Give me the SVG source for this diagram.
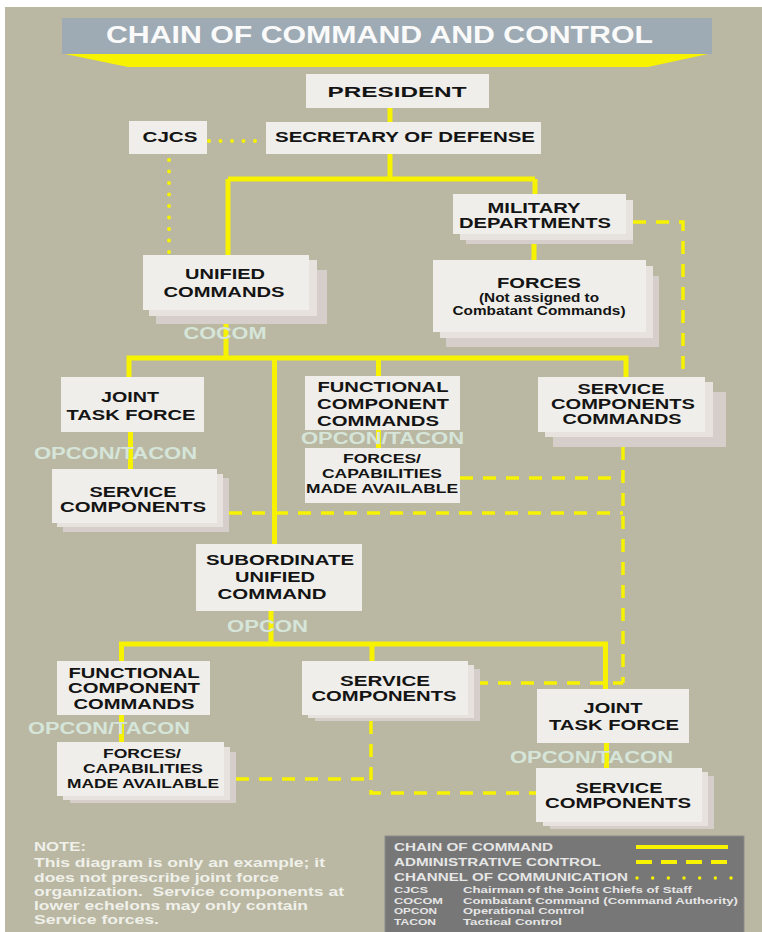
<svg xmlns="http://www.w3.org/2000/svg" width="762" height="932" viewBox="0 0 762 932">
<style>
text{font-family:"Liberation Sans",Arial,Helvetica,sans-serif;font-weight:bold}
.t{fill:#141414;text-anchor:middle;font-size:15px}
.m{font-size:13.9px}
.s{font-size:13px}
.xs{font-size:12px}
.box{fill:#EFEEEA}
.l2{fill:#E8E2DF}
.l3{fill:#D5CECB}
.lbl{fill:#D6E5D9;text-anchor:middle;font-size:16px}
.cmd{stroke:#F6F200;stroke-width:5;fill:none}
.adm{stroke:#F6F200;stroke-width:3.5;fill:none;stroke-dasharray:13 10}
.com{stroke:#F6F200;stroke-width:4;fill:none;stroke-dasharray:0 11.5;stroke-linecap:round}
.lg{fill:#E6E6E6;font-size:11.5px}
.ab{fill:#E6E6E6;font-size:9.5px}
.note{fill:#F0F0EA;font-size:13px}
</style>
<rect x="0" y="0" width="762" height="932" fill="#FFFFFF"/>
<rect x="5" y="7" width="757" height="925" fill="#BAB8A2"/>
<g id="title">
<rect x="62" y="18" width="650" height="36" fill="#9EABB4"/>
<polygon points="65,54 708,54 648,67 128,67" fill="#F6F200"/>
<text x="379.5" y="43" font-size="24" fill="#FAFAFA" text-anchor="middle" textLength="547" lengthAdjust="spacingAndGlyphs">CHAIN OF COMMAND AND CONTROL</text>
</g>
<g id="connectors">
<path class="cmd" d="M390,108V122M390,154V179M228,179H535M228,179V255M535,179V194"/>
<path class="cmd" d="M534,240V260"/>
<path class="cmd" d="M226,316V358M126.5,358H628.5M129,358V377M274.5,358V544M378.5,358V376M626,358V377"/>
<path class="cmd" d="M130.5,432V469M378.5,430V448"/>
<path class="cmd" d="M271,611V644M119,644H608M121.5,644V661M372,644V661M605.5,644V689M121.5,715V742M606.5,743V768"/>
<path class="adm" d="M633,222H683V378"/>
<path class="adm" d="M229,513H623M460,478H623M623,447V683M475,683H623"/>
<path class="adm" d="M236,779H371M371,721V793H536"/>
<path class="com" d="M209,141H266M169,160V255"/>
<text class="lbl" x="225" y="339" textLength="83" lengthAdjust="spacingAndGlyphs">COCOM</text>
<text class="lbl" x="115.5" y="459" textLength="163" lengthAdjust="spacingAndGlyphs">OPCON/TACON</text>
<text class="lbl" x="382.5" y="444" textLength="163" lengthAdjust="spacingAndGlyphs">OPCON/TACON</text>
<text class="lbl" x="267.5" y="632" textLength="81" lengthAdjust="spacingAndGlyphs">OPCON</text>
<text class="lbl" x="109" y="734" textLength="162" lengthAdjust="spacingAndGlyphs">OPCON/TACON</text>
<text class="lbl" x="591.5" y="763" textLength="163" lengthAdjust="spacingAndGlyphs">OPCON/TACON</text>
</g>
<g id="president">
<rect class="box" x="306" y="74" width="183" height="34"/>
<text class="t" x="397" y="97" font-size="17" textLength="139" lengthAdjust="spacingAndGlyphs">PRESIDENT</text>
</g>
<g id="cjcs">
<rect class="box" x="129" y="121" width="78" height="33"/>
<text class="t" x="170" y="142" textLength="55" lengthAdjust="spacingAndGlyphs">CJCS</text>
</g>
<g id="secdef">
<rect class="box" x="266" y="122" width="275" height="32"/>
<text class="t" x="405" y="142" font-size="16" textLength="260" lengthAdjust="spacingAndGlyphs">SECRETARY OF DEFENSE</text>
</g>
<g id="military-departments">
<rect class="l3" x="466" y="206" width="167" height="38"/>
<rect class="l2" x="460" y="200" width="173" height="40"/>
<rect class="box" x="453" y="194" width="173" height="40"/>
<text class="t m" x="534" y="213" textLength="93" lengthAdjust="spacingAndGlyphs">MILITARY</text>
<text class="t m" x="535" y="228" textLength="152" lengthAdjust="spacingAndGlyphs">DEPARTMENTS</text>
</g>
<g id="unified-commands">
<rect class="l3" x="156" y="270" width="171" height="54"/>
<rect class="l2" x="149" y="260" width="168" height="56"/>
<rect class="box" x="143" y="255" width="166" height="55"/>
<text class="t" x="225" y="279" textLength="80" lengthAdjust="spacingAndGlyphs">UNIFIED</text>
<text class="t" x="224" y="297" textLength="121" lengthAdjust="spacingAndGlyphs">COMMANDS</text>
</g>
<g id="forces">
<rect class="l3" x="446" y="276" width="213" height="71"/>
<rect class="l2" x="440" y="266" width="213" height="72"/>
<rect class="box" x="433" y="260" width="213" height="72"/>
<text class="t" x="539" y="288" font-size="15.5" textLength="84" lengthAdjust="spacingAndGlyphs">FORCES</text>
<text class="t xs" x="539" y="302" textLength="120" lengthAdjust="spacingAndGlyphs">(Not assigned to</text>
<text class="t xs" x="539" y="315" textLength="173" lengthAdjust="spacingAndGlyphs">Combatant Commands)</text>
</g>
<g id="joint-task-force-1">
<rect class="box" x="61" y="377" width="143" height="55"/>
<text class="t" x="130" y="402" textLength="58" lengthAdjust="spacingAndGlyphs">JOINT</text>
<text class="t" x="131" y="420" textLength="129" lengthAdjust="spacingAndGlyphs">TASK FORCE</text>
</g>
<g id="functional-component-commands-1">
<rect class="box" x="305" y="376" width="155" height="54"/>
<text class="t" x="383" y="392" textLength="131" lengthAdjust="spacingAndGlyphs">FUNCTIONAL</text>
<text class="t" x="383" y="409" textLength="132" lengthAdjust="spacingAndGlyphs">COMPONENT</text>
<text class="t" x="378" y="426" textLength="122" lengthAdjust="spacingAndGlyphs">COMMANDS</text>
</g>
<g id="forces-capabilities-1">
<rect class="box" x="305" y="448" width="155" height="55"/>
<text class="t s" x="382" y="463" textLength="78" lengthAdjust="spacingAndGlyphs">FORCES/</text>
<text class="t s" x="382" y="478" textLength="120" lengthAdjust="spacingAndGlyphs">CAPABILITIES</text>
<text class="t s" x="382" y="493" textLength="152" lengthAdjust="spacingAndGlyphs">MADE AVAILABLE</text>
</g>
<g id="service-components-commands">
<rect class="l3" x="553" y="392" width="173" height="55"/>
<rect class="l2" x="545" y="382" width="168" height="55"/>
<rect class="box" x="538" y="377" width="167" height="55"/>
<text class="t m" x="621" y="394" textLength="87" lengthAdjust="spacingAndGlyphs">SERVICE</text>
<text class="t m" x="623" y="409" textLength="144" lengthAdjust="spacingAndGlyphs">COMPONENTS</text>
<text class="t m" x="622" y="424" textLength="119" lengthAdjust="spacingAndGlyphs">COMMANDS</text>
</g>
<g id="service-components-1">
<rect class="l3" x="63" y="478" width="166" height="54"/>
<rect class="l2" x="57" y="474" width="166" height="53"/>
<rect class="box" x="52" y="469" width="165" height="54"/>
<text class="t m" x="133" y="497" textLength="87" lengthAdjust="spacingAndGlyphs">SERVICE</text>
<text class="t m" x="133" y="512" textLength="146" lengthAdjust="spacingAndGlyphs">COMPONENTS</text>
</g>
<g id="subordinate-unified-command">
<rect class="box" x="196" y="544" width="166" height="67"/>
<text class="t" x="280" y="565" textLength="148" lengthAdjust="spacingAndGlyphs">SUBORDINATE</text>
<text class="t" x="275" y="582" textLength="80" lengthAdjust="spacingAndGlyphs">UNIFIED</text>
<text class="t" x="272" y="599" textLength="109" lengthAdjust="spacingAndGlyphs">COMMAND</text>
</g>
<g id="functional-component-commands-2">
<rect class="box" x="57" y="661" width="153" height="54"/>
<text class="t m" x="134" y="678" textLength="131" lengthAdjust="spacingAndGlyphs">FUNCTIONAL</text>
<text class="t m" x="134" y="693" textLength="132" lengthAdjust="spacingAndGlyphs">COMPONENT</text>
<text class="t m" x="134" y="709" textLength="121" lengthAdjust="spacingAndGlyphs">COMMANDS</text>
</g>
<g id="forces-capabilities-2">
<rect class="l3" x="70" y="752" width="166" height="51"/>
<rect class="l2" x="63" y="747" width="167" height="53"/>
<rect class="box" x="57" y="742" width="167" height="54"/>
<text class="t s" x="142" y="758" textLength="78" lengthAdjust="spacingAndGlyphs">FORCES/</text>
<text class="t s" x="143" y="773" textLength="120" lengthAdjust="spacingAndGlyphs">CAPABILITIES</text>
<text class="t s" x="143" y="788" textLength="152" lengthAdjust="spacingAndGlyphs">MADE AVAILABLE</text>
</g>
<g id="service-components-2">
<rect class="l3" x="315" y="669" width="165" height="52"/>
<rect class="l2" x="308" y="665" width="166" height="53"/>
<rect class="box" x="302" y="661" width="166" height="54"/>
<text class="t m" x="385" y="686" textLength="90" lengthAdjust="spacingAndGlyphs">SERVICE</text>
<text class="t m" x="384" y="701" textLength="145" lengthAdjust="spacingAndGlyphs">COMPONENTS</text>
</g>
<g id="joint-task-force-2">
<rect class="box" x="537" y="689" width="152" height="54"/>
<text class="t" x="613" y="713" textLength="59" lengthAdjust="spacingAndGlyphs">JOINT</text>
<text class="t" x="614" y="730" textLength="130" lengthAdjust="spacingAndGlyphs">TASK FORCE</text>
</g>
<g id="service-components-3">
<rect class="l3" x="550" y="776" width="164" height="53"/>
<rect class="l2" x="543" y="772" width="165" height="54"/>
<rect class="box" x="536" y="768" width="166" height="54"/>
<text class="t m" x="619" y="793" textLength="87" lengthAdjust="spacingAndGlyphs">SERVICE</text>
<text class="t m" x="618" y="808" textLength="146" lengthAdjust="spacingAndGlyphs">COMPONENTS</text>
</g>
<g id="note">
<text class="note" x="34" y="851" textLength="52" lengthAdjust="spacingAndGlyphs">NOTE:</text>
<text class="note" x="34" y="867" textLength="291" lengthAdjust="spacingAndGlyphs">This diagram is only an example; it</text>
<text class="note" x="34" y="882" textLength="245" lengthAdjust="spacingAndGlyphs">does not prescribe joint force</text>
<text class="note" x="34" y="896" textLength="310" lengthAdjust="spacingAndGlyphs" xml:space="preserve">organization.  Service components at</text>
<text class="note" x="34" y="910" textLength="274" lengthAdjust="spacingAndGlyphs">lower echelons may only contain</text>
<text class="note" x="34" y="924" textLength="125" lengthAdjust="spacingAndGlyphs">Service forces.</text>
</g>
<g id="legend">
<rect x="385" y="836" width="359" height="100" fill="#777777" stroke="#8C8C8C" stroke-width="1"/>
<text class="lg" x="394" y="851" textLength="159" lengthAdjust="spacingAndGlyphs">CHAIN OF COMMAND</text>
<text class="lg" x="394" y="866" textLength="207" lengthAdjust="spacingAndGlyphs">ADMINISTRATIVE CONTROL</text>
<text class="lg" x="394" y="881" textLength="234" lengthAdjust="spacingAndGlyphs">CHANNEL OF COMMUNICATION</text>
<path d="M636,847H728" stroke="#F6F200" stroke-width="4" fill="none"/>
<path d="M636,862H727" stroke="#F6F200" stroke-width="4" fill="none" stroke-dasharray="16 9"/>
<path d="M637,878H732" stroke="#F6F200" stroke-width="3.5" fill="none" stroke-dasharray="0 15.67" stroke-linecap="round"/>
<text class="ab" x="394" y="893" textLength="34" lengthAdjust="spacingAndGlyphs">CJCS</text>
<text class="ab" x="394" y="903.5" textLength="49" lengthAdjust="spacingAndGlyphs">COCOM</text>
<text class="ab" x="394" y="914" textLength="43" lengthAdjust="spacingAndGlyphs">OPCON</text>
<text class="ab" x="394" y="925" textLength="42" lengthAdjust="spacingAndGlyphs">TACON</text>
<text class="ab" x="463" y="893" textLength="229" lengthAdjust="spacingAndGlyphs">Chairman of the Joint Chiefs of Staff</text>
<text class="ab" x="463" y="903.5" textLength="275" lengthAdjust="spacingAndGlyphs">Combatant Command (Command Authority)</text>
<text class="ab" x="463" y="914" textLength="121" lengthAdjust="spacingAndGlyphs">Operational Control</text>
<text class="ab" x="463" y="925" textLength="99" lengthAdjust="spacingAndGlyphs">Tactical Control</text>
</g>
</svg>
